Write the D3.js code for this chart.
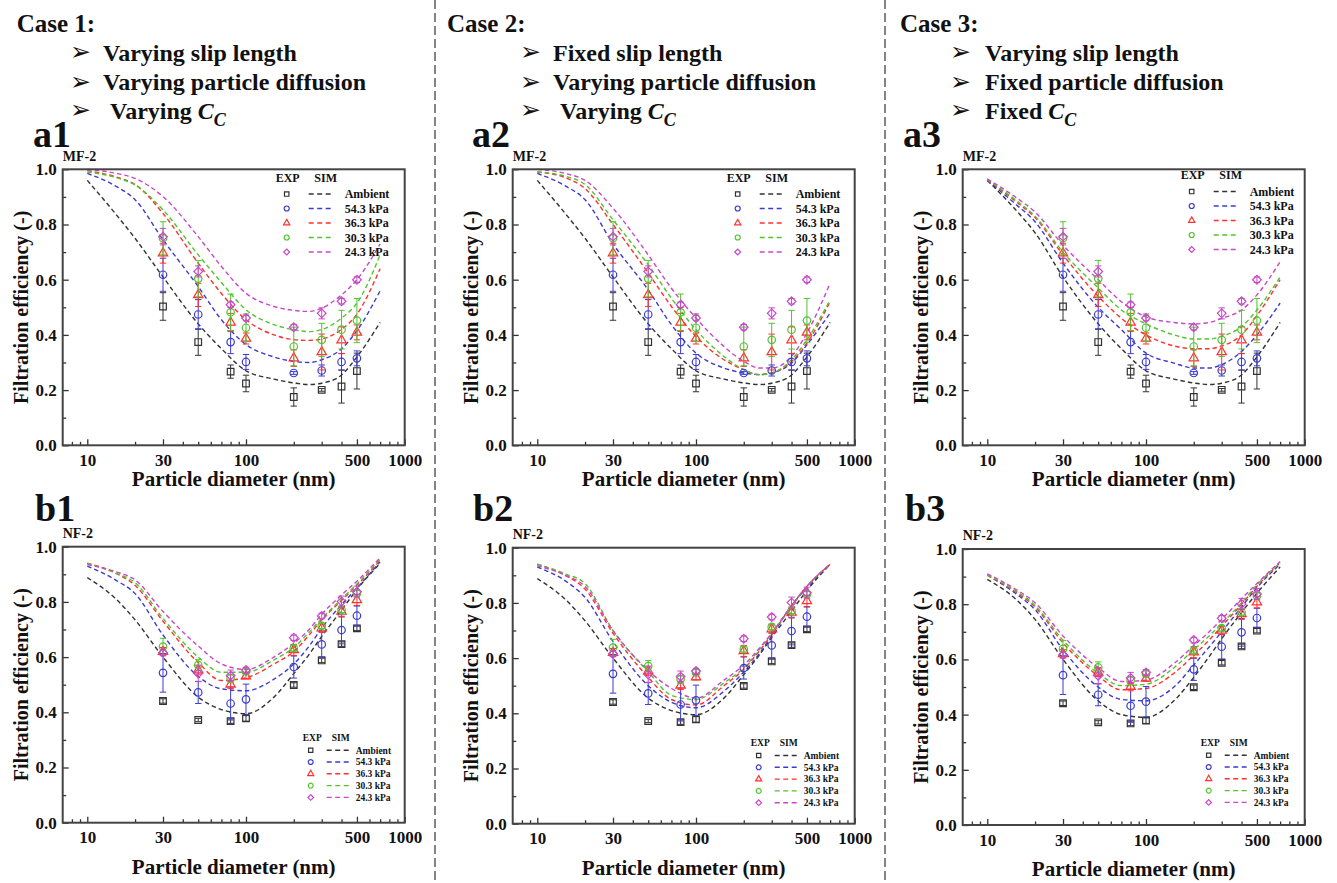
<!DOCTYPE html>
<html lang="en">
<head>
<meta charset="UTF-8">
<title>Filtration efficiency - three cases</title>
<style>
    body { margin: 0; background: #fff; }
    svg { display: block; font-family: "Liberation Serif", "DejaVu Serif", serif; font-weight: bold; }
</style>
<script src="https://d3js.org/d3.v7.min.js"></script>
</head>
<body>
<svg id="fig" width="1337" height="883"></svg>
<script>
// ---- data ----
const seriesNames = ["Ambient", "54.3 kPa", "36.3 kPa", "30.3 kPa", "24.3 kPa"];
const seriesColors = ["#333333", "#3b3bcf", "#ff3030", "#52c42e", "#c848c8"];
const seriesShapes = ["square", "circle", "triangle", "circle", "diamond"];

const expDiam = [30, 50, 80, 100, 200, 300, 400, 500];
const simDiam = [10, 15, 20, 30, 50, 70, 100, 150, 200, 250, 300, 400, 500, 700];

// MF-2 experiments (same in a1, a2, a3)
const mfExp = [
    [0.503, 0.374, 0.267, 0.224, 0.175, 0.201, 0.213, 0.269],
    [0.618, 0.474, 0.374, 0.302, 0.262, 0.271, 0.302, 0.315],
    [0.696, 0.545, 0.445, 0.387, 0.316, 0.338, 0.381, 0.409],
    [0.750, 0.604, 0.482, 0.426, 0.358, 0.382, 0.419, 0.452],
    [0.756, 0.630, 0.509, 0.461, 0.428, 0.478, 0.522, 0.600]
];
const mfErr = [
    [0.05, 0.048, 0.024, 0.03, 0.033, 0.005, 0.06, 0.065],
    [0.06, 0.054, 0.042, 0.027, 0.005, 0.02, 0.03, 0.027],
    [0.036, 0.042, 0.033, 0.02, 0.03, 0.065, 0.048, 0.027],
    [0.06, 0.066, 0.066, 0.05, 0.07, 0.06, 0.07, 0.08],
    [0.03, 0.02, 0.01, 0.01, 0.01, 0.02, 0.01, 0.01]
];

// NF-2 experiments (same in b1, b2, b3)
const nfExp = [
    [0.441, 0.372, 0.368, 0.378, 0.499, 0.588, 0.647, 0.704],
    [0.543, 0.472, 0.432, 0.447, 0.564, 0.646, 0.698, 0.750],
    [0.620, 0.553, 0.501, 0.531, 0.626, 0.705, 0.765, 0.807],
    [0.638, 0.571, 0.523, 0.548, 0.632, 0.713, 0.771, 0.831],
    [0.616, 0.541, 0.533, 0.553, 0.670, 0.749, 0.801, 0.837]
];
const nfErr = [
    [0.008, 0.006, 0.008, 0.01, 0.008, 0.008, 0.008, 0.008],
    [0.07, 0.04, 0.06, 0.055, 0.04, 0.045, 0.05, 0.035],
    [0.015, 0.015, 0.015, 0.01, 0.02, 0.015, 0.02, 0.02],
    [0.03, 0.02, 0.015, 0.01, 0.01, 0.01, 0.01, 0.01],
    [0.01, 0.03, 0.02, 0.01, 0.01, 0.01, 0.02, 0.02]
];

// simulated curves
const simA1 = [
    [0.96, 0.84, 0.75, 0.61, 0.44, 0.35, 0.27, 0.24, 0.226, 0.22, 0.225, 0.255, 0.32, 0.445],
    [0.985, 0.94, 0.89, 0.745, 0.575, 0.455, 0.365, 0.32, 0.304, 0.30, 0.31, 0.35, 0.415, 0.56],
    [0.995, 0.973, 0.945, 0.84, 0.66, 0.55, 0.455, 0.40, 0.383, 0.38, 0.385, 0.42, 0.475, 0.64],
    [0.99, 0.971, 0.943, 0.853, 0.69, 0.59, 0.491, 0.437, 0.419, 0.412, 0.419, 0.461, 0.515, 0.69],
    [1.0, 0.986, 0.967, 0.901, 0.756, 0.648, 0.551, 0.503, 0.489, 0.485, 0.497, 0.545, 0.60, 0.73]
];
const simA2 = [
    [0.96, 0.84, 0.75, 0.61, 0.44, 0.35, 0.27, 0.24, 0.226, 0.22, 0.225, 0.255, 0.32, 0.445],
    [0.985, 0.94, 0.89, 0.73, 0.563, 0.437, 0.334, 0.28, 0.262, 0.256, 0.262, 0.298, 0.364, 0.479],
    [0.99, 0.97, 0.93, 0.80, 0.624, 0.503, 0.394, 0.31, 0.274, 0.256, 0.262, 0.304, 0.37, 0.521],
    [0.99, 0.975, 0.945, 0.817, 0.654, 0.533, 0.419, 0.322, 0.274, 0.256, 0.262, 0.31, 0.382, 0.527],
    [1.0, 0.985, 0.96, 0.859, 0.69, 0.569, 0.461, 0.358, 0.304, 0.28, 0.28, 0.322, 0.407, 0.587]
];
const simA3 = [
    [0.96, 0.855, 0.77, 0.61, 0.44, 0.35, 0.27, 0.24, 0.226, 0.22, 0.225, 0.255, 0.32, 0.445],
    [0.96, 0.875, 0.81, 0.66, 0.50, 0.419, 0.334, 0.298, 0.28, 0.28, 0.292, 0.34, 0.40, 0.515],
    [0.962, 0.885, 0.825, 0.69, 0.54, 0.46, 0.40, 0.36, 0.35, 0.35, 0.36, 0.40, 0.47, 0.60],
    [0.963, 0.89, 0.83, 0.70, 0.57, 0.49, 0.44, 0.40, 0.385, 0.385, 0.395, 0.43, 0.49, 0.61],
    [0.965, 0.90, 0.845, 0.725, 0.60, 0.52, 0.465, 0.445, 0.44, 0.445, 0.46, 0.49, 0.545, 0.665]
];
const simB1 = [
    [0.888, 0.813, 0.735, 0.60, 0.455, 0.41, 0.395, 0.455, 0.54, 0.61, 0.675, 0.77, 0.845, 0.94],
    [0.93, 0.88, 0.83, 0.68, 0.53, 0.485, 0.478, 0.52, 0.575, 0.64, 0.705, 0.79, 0.85, 0.945],
    [0.94, 0.905, 0.86, 0.73, 0.58, 0.515, 0.525, 0.575, 0.62, 0.68, 0.735, 0.805, 0.86, 0.95],
    [0.94, 0.905, 0.87, 0.74, 0.60, 0.545, 0.545, 0.59, 0.635, 0.69, 0.74, 0.81, 0.865, 0.955],
    [0.935, 0.91, 0.88, 0.765, 0.64, 0.575, 0.555, 0.60, 0.65, 0.70, 0.755, 0.825, 0.875, 0.96]
];
const simB2 = [
    [0.888, 0.813, 0.735, 0.60, 0.455, 0.41, 0.395, 0.455, 0.54, 0.61, 0.675, 0.77, 0.845, 0.94],
    [0.93, 0.88, 0.82, 0.66, 0.50, 0.44, 0.42, 0.48, 0.55, 0.615, 0.68, 0.79, 0.855, 0.94],
    [0.94, 0.90, 0.85, 0.69, 0.53, 0.45, 0.43, 0.50, 0.56, 0.625, 0.685, 0.79, 0.86, 0.94],
    [0.94, 0.905, 0.87, 0.70, 0.55, 0.465, 0.45, 0.51, 0.565, 0.63, 0.69, 0.79, 0.86, 0.94],
    [0.935, 0.90, 0.86, 0.70, 0.555, 0.49, 0.455, 0.52, 0.575, 0.635, 0.69, 0.79, 0.86, 0.94]
];
const simB3 = [
    [0.89, 0.82, 0.745, 0.60, 0.45, 0.40, 0.39, 0.45, 0.535, 0.61, 0.675, 0.77, 0.84, 0.935],
    [0.905, 0.84, 0.78, 0.635, 0.50, 0.455, 0.45, 0.50, 0.58, 0.645, 0.70, 0.79, 0.86, 0.945],
    [0.905, 0.845, 0.79, 0.66, 0.54, 0.49, 0.495, 0.55, 0.615, 0.67, 0.72, 0.80, 0.865, 0.95],
    [0.905, 0.85, 0.795, 0.67, 0.55, 0.505, 0.51, 0.57, 0.635, 0.685, 0.73, 0.805, 0.87, 0.95],
    [0.91, 0.855, 0.805, 0.685, 0.57, 0.52, 0.525, 0.585, 0.65, 0.70, 0.745, 0.82, 0.875, 0.955]
];

const xTickLabels = [10, 30, 100, 500, 1000];
const xMinorTicks = [8, 9, 20, 40, 50, 60, 70, 80, 90, 200, 300, 400, 600, 700, 800, 900];
const yTickLabels = [0, 0.2, 0.4, 0.6, 0.8, 1.0];
const yMinorTicks = [0.1, 0.3, 0.5, 0.7, 0.9];

const caseTitles = ["Case 1:", "Case 2:", "Case 3:"];
const caseLines = [
    ["Varying slip length", "Varying particle diffusion", " Varying C_C"],
    ["Fixed slip length", "Varying particle diffusion", " Varying C_C"],
    ["Varying slip length", "Fixed particle diffusion", "Fixed C_C"]
];

// ---- layout ----
const svg = d3.select("#fig");
const W = 342, H = 276;
const serif = '"Liberation Serif", "DejaVu Serif", serif';

const panels = [
    { label: "a1", mat: "MF-2", x: 62.7, y: 169.3, lx: 33, ly: 147, sim: simA1, exp: mfExp, err: mfErr, row: 0, legDx: 0, legDy: 0 },
    { label: "a2", mat: "MF-2", x: 512.7, y: 169.3, lx: 472, ly: 147, sim: simA2, exp: mfExp, err: mfErr, row: 0, legDx: 1, legDy: 0 },
    { label: "a3", mat: "MF-2", x: 962.7, y: 169.3, lx: 903, ly: 147, sim: simA3, exp: mfExp, err: mfErr, row: 0, legDx: 5, legDy: -2.5 },
    { label: "b1", mat: "NF-2", x: 62.7, y: 546.7, lx: 35, ly: 521, sim: simB1, exp: nfExp, err: nfErr, row: 1, legDx: 0, legDy: 0 },
    { label: "b2", mat: "NF-2", x: 512.7, y: 547.7, lx: 473, ly: 521, sim: simB2, exp: nfExp, err: nfErr, row: 1, legDx: -2, legDy: 4.3 },
    { label: "b3", mat: "NF-2", x: 962.7, y: 549, lx: 905, ly: 521, sim: simB3, exp: nfExp, err: nfErr, row: 1, legDx: -2, legDy: 2.7 }
];

const legendStyle = [
    { mx: 224, lx0: 246, lx1: 270, tx: 282, hy: 8.5, ry0: 24.7, step: 14.5, fs: 12, exX: 225, simX: 263, ms: 0.45 },
    { mx: 248, lx0: 264, lx1: 287, tx: 293, hy: 191, ry0: 203.5, step: 11.8, fs: 9.5, exX: 249.5, simX: 278, ms: 0.42 }
];

function symbolPath(shape, scale) {
    const types = { square: d3.symbolSquare, circle: d3.symbolCircle, triangle: d3.symbolTriangle, diamond: d3.symbolSquare };
    const sizes = { square: 44, circle: 44, triangle: 38, diamond: 38 };
    return d3.symbol().type(types[shape]).size(sizes[shape] * scale)();
}

function addMarker(g, shape, cx, cy, color, scale) {
    g.append("path")
        .attr("d", symbolPath(shape, scale))
        .attr("transform", `translate(${cx},${cy})` + (shape === "diamond" ? " rotate(45)" : ""))
        .attr("fill", "none")
        .attr("stroke", color)
        .attr("stroke-width", 1.2);
}

function drawPanel(p) {
    const g = svg.append("g").attr("transform", `translate(${p.x},${p.y})`);
    const x = d3.scaleLog().domain([7, 1000]).range([0, W]);
    const y = d3.scaleLinear().domain([0, 1]).range([H, 0]);

    // simulation curves
    const line = d3.line()
        .x(d => x(d[0]))
        .y(d => y(d[1]))
        .curve(d3.curveMonotoneX);
    p.sim.forEach((vals, i) => {
        g.append("path")
            .datum(simDiam.map((d, j) => [d, vals[j]]))
            .attr("d", line)
            .attr("fill", "none")
            .attr("stroke", seriesColors[i])
            .attr("stroke-width", 1.4)
            .attr("stroke-dasharray", "4.5,3");
    });

    // error bars + markers
    p.exp.forEach((vals, i) => {
        const c = seriesColors[i];
        vals.forEach((v, j) => {
            const cx = x(expDiam[j]);
            const e = p.err[i][j];
            const eb = g.append("g").attr("stroke", c).attr("stroke-width", 1);
            eb.append("line").attr("x1", cx).attr("x2", cx).attr("y1", y(v - e)).attr("y2", y(v + e));
            [v - e, v + e].forEach(t => {
                eb.append("line").attr("x1", cx - 3.2).attr("x2", cx + 3.2).attr("y1", y(t)).attr("y2", y(t));
            });
        });
        vals.forEach((v, j) => addMarker(g, seriesShapes[i], x(expDiam[j]), y(v), c, 1));
    });

    // ticks (inward)
    const ax = g.append("g").attr("transform", `translate(0,${H})`)
        .call(d3.axisBottom(x).tickValues(xMinorTicks).tickSize(-3.5).tickFormat(""));
    const axM = g.append("g").attr("transform", `translate(0,${H})`)
        .call(d3.axisBottom(x).tickValues(xTickLabels).tickSizeInner(-6).tickSizeOuter(0).tickPadding(8.5).tickFormat(d3.format("d")));
    const ay = g.append("g")
        .call(d3.axisLeft(y).tickValues(yMinorTicks).tickSize(-3.5).tickFormat(""));
    const ayM = g.append("g")
        .call(d3.axisLeft(y).tickValues(yTickLabels).tickSizeInner(-6).tickSizeOuter(0).tickPadding(6).tickFormat(d3.format(".1f")));
    [ax, axM, ay, ayM].forEach(a => {
        a.select(".domain").remove();
        a.attr("color", "#333").attr("font-family", serif).attr("font-weight", "bold").attr("font-size", 17);
        a.selectAll("line").attr("stroke-width", 1.3);
        a.selectAll("text").attr("fill", "#111");
    });

    // frame
    g.append("rect").attr("width", W).attr("height", H)
        .attr("fill", "none").attr("stroke", "#444").attr("stroke-width", 2);

    // axis titles
    g.append("text")
        .attr("transform", `translate(-42,${H / 2}) rotate(-90)`)
        .attr("text-anchor", "middle").attr("dy", "0.35em")
        .attr("font-size", 20).attr("fill", "#111")
        .text("Filtration efficiency (-)");
    g.append("text")
        .attr("x", W / 2).attr("y", H + (p.row === 0 ? 41 : 51))
        .attr("text-anchor", "middle")
        .attr("font-size", 21).attr("fill", "#111")
        .text("Particle diameter (nm)");

    // material label
    g.append("text")
        .attr("x", 0).attr("y", p.row === 0 ? -8 : -9)
        .attr("font-size", 14).attr("fill", "#111")
        .text(p.mat);

    // panel letter
    svg.append("text")
        .attr("x", p.lx).attr("y", p.ly)
        .attr("font-size", 38).attr("fill", "#111")
        .text(p.label);

    // legend
    const L = legendStyle[p.row];
    const lg = g.append("g").attr("transform", `translate(${p.legDx},${p.legDy})`)
        .attr("font-size", L.fs).attr("fill", "#111");
    lg.append("text").attr("x", L.exX).attr("y", L.hy).attr("dy", "0.35em").attr("text-anchor", "middle").text("EXP");
    lg.append("text").attr("x", L.simX).attr("y", L.hy).attr("dy", "0.35em").attr("text-anchor", "middle").text("SIM");
    seriesNames.forEach((name, i) => {
        const ry = L.ry0 + i * L.step;
        addMarker(lg, seriesShapes[i], L.mx, ry, seriesColors[i], L.ms);
        lg.append("line")
            .attr("x1", L.lx0).attr("x2", L.lx1).attr("y1", ry).attr("y2", ry)
            .attr("stroke", seriesColors[i]).attr("stroke-width", 1.4)
            .attr("stroke-dasharray", "5,3.5");
        lg.append("text").attr("x", L.tx).attr("y", ry).attr("dy", "0.35em").text(name);
    });
}

panels.forEach(drawPanel);

// ---- case headers ----
const caseX = [16.7, 447, 900];
const arrowX = [70, 520, 950];
const textX = [103, 553, 985];
const lineY = [60.7, 90, 118.7];

caseTitles.forEach((t, k) => {
    svg.append("text").attr("x", caseX[k]).attr("y", 31.7)
        .attr("font-size", 25).attr("fill", "#111").text(t);
    caseLines[k].forEach((ln, r) => {
        svg.append("text").attr("x", arrowX[k]).attr("y", lineY[r] - 0.5)
            .attr("font-family", '"DejaVu Sans", sans-serif').attr("font-weight", "normal")
            .attr("font-size", 25).attr("fill", "#111").text("\u27A2");
        const lead = ln.startsWith(" ");
        const body = ln.trim();
        const txt = svg.append("text").attr("x", textX[k] + (lead ? 7 : 0)).attr("y", lineY[r])
            .attr("font-size", 24).attr("fill", "#111");
        if (body.endsWith("C_C")) {
            txt.append("tspan").text(body.replace("C_C", ""));
            txt.append("tspan").attr("font-style", "italic").text("C");
            txt.append("tspan").attr("font-style", "italic").attr("font-size", 18).attr("dy", 7).text("C");
        } else {
            txt.text(body);
        }
    });
});

// ---- dashed separators ----
[435, 885].forEach(sx => {
    svg.append("line").attr("x1", sx).attr("x2", sx).attr("y1", 0).attr("y2", 883)
        .attr("stroke", "#444").attr("stroke-width", 1.3).attr("stroke-dasharray", "9,4");
});
</script>
</body>
</html>
